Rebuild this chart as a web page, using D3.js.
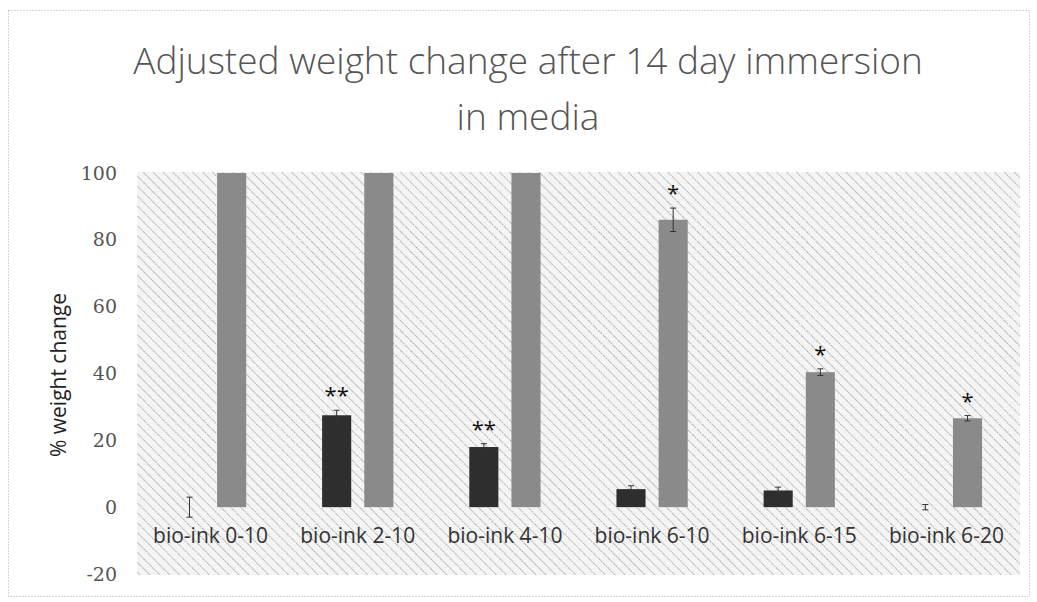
<!DOCTYPE html>
<html>
<head>
<meta charset="utf-8">
<script src="https://cdn.jsdelivr.net/npm/d3@7"></script>
<style>
  body { margin: 0; background: #fff; }
  svg text { font-family: "Open Sans", "DejaVu Sans", sans-serif; }
</style>
</head>
<body>
<div id="chart"></div>
<script>
// data
const categories = ["bio-ink 0-10", "bio-ink 2-10", "bio-ink 4-10", "bio-ink 6-10", "bio-ink 6-15", "bio-ink 6-20"];
const series = ["dark", "light"];
const darkValues = [0, 27.5, 18, 5.4, 5, 0];
const darkErrors = [3, 1.5, 1, 1, 1, 0.8];
const lightValues = [100, 100, 100, 86, 40.4, 26.6];
const lightErrors = [0, 0, 0, 3.5, 1, 0.8];
const darkStars = ["", "**", "**", "", "", ""];
const lightStars = ["", "", "", "*", "*", "*"];
const yTicks = [-20, 0, 20, 40, 60, 80, 100];

const W = 1037, H = 602;
const plot = { left: 137, right: 1020, top: 172, bottom: 575 };

const svg = d3.select("#chart")
    .append("svg")
    .attr("width", W)
    .attr("height", H);

const defs = svg.append("defs");

// diagonal hatch for the plot area, running top-left to bottom-right
const hatch = defs.append("pattern")
    .attr("id", "hatch")
    .attr("patternUnits", "userSpaceOnUse")
    .attr("width", 7)
    .attr("height", 7)
    .attr("patternTransform", "rotate(-45)");
hatch.append("rect").attr("width", 7).attr("height", 7).attr("fill", "#f4f4f4");
hatch.append("line")
    .attr("x1", 0).attr("y1", 0).attr("x2", 0).attr("y2", 7)
    .attr("stroke", "#7a7a7a")
    .attr("stroke-width", 1.2)
    .attr("stroke-dasharray", "1.5,1");

// outer dotted frame
svg.append("rect")
    .attr("x", 8.5).attr("y", 10.5)
    .attr("width", 1021).attr("height", 586)
    .attr("fill", "none")
    .attr("stroke", "#aaa")
    .attr("stroke-dasharray", "1,2");

svg.append("rect")
    .attr("x", plot.left).attr("y", plot.top)
    .attr("width", plot.right - plot.left).attr("height", plot.bottom - plot.top)
    .attr("fill", "url(#hatch)");

// scales
const x0 = d3.scaleBand()
    .domain(categories)
    .range([plot.left, plot.right])
    .padding(0);

const x1 = d3.scaleBand()
    .domain(series)
    .range([0, x0.bandwidth()])
    .paddingInner(0.31)
    .paddingOuter(0.9);

const y = d3.scaleLinear()
    .domain([-20, 100])
    .range([574, 173]);

// y axis
const yAxis = svg.append("g")
    .attr("transform", `translate(${plot.left},0)`)
    .call(d3.axisLeft(y).tickValues(yTicks).tickFormat(d => String(d)).tickSize(0).tickPadding(20));
yAxis.select(".domain").remove();
yAxis.selectAll("text")
    .style("font-size", "19px")
    .style("font-family", "\"DejaVu Serif\", serif")
    .attr("fill", "#555");

// x axis labels
const xAxis = svg.append("g")
    .attr("transform", `translate(0,${y(0)})`)
    .call(d3.axisBottom(x0).tickSize(0).tickPadding(21));
xAxis.select(".domain").remove();
xAxis.selectAll("text")
    .style("font-size", "21px")
    .attr("fill", "#333");

const rows = categories.map((c, i) => ({
    cat: c,
    vals: [
        { key: "dark", v: darkValues[i], e: darkErrors[i], star: darkStars[i] },
        { key: "light", v: lightValues[i], e: lightErrors[i], star: lightStars[i] }
    ]
}));

const colors = { dark: "#2e2e2e", light: "#8a8a8a" };

const groups = svg.selectAll("g.grp")
    .data(rows)
    .join("g")
    .attr("class", "grp")
    .attr("transform", d => `translate(${x0(d.cat)},0)`);

groups.selectAll("rect")
    .data(d => d.vals)
    .join("rect")
    .attr("x", d => x1(d.key))
    .attr("y", d => y(Math.max(0, d.v)))
    .attr("width", x1.bandwidth())
    .attr("height", d => Math.abs(y(d.v) - y(0)))
    .attr("fill", d => colors[d.key]);

// error bars
const errs = groups.selectAll("g.err")
    .data(d => d.vals.filter(v => v.e > 0))
    .join("g")
    .attr("class", "err")
    .attr("transform", d => `translate(${x1(d.key) + x1.bandwidth() / 2},0)`);
errs.append("line")
    .attr("y1", d => y(d.v - d.e)).attr("y2", d => y(d.v + d.e))
    .attr("stroke", "#333").attr("stroke-width", 1);
errs.append("line")
    .attr("x1", -3).attr("x2", 3)
    .attr("y1", d => y(d.v + d.e)).attr("y2", d => y(d.v + d.e))
    .attr("stroke", "#333").attr("stroke-width", 1);
errs.append("line")
    .attr("x1", -3).attr("x2", 3)
    .attr("y1", d => y(d.v - d.e)).attr("y2", d => y(d.v - d.e))
    .attr("stroke", "#333").attr("stroke-width", 1);

// significance stars
groups.selectAll("text.star")
    .data(d => d.vals.filter(v => v.star))
    .join("text")
    .attr("class", "star")
    .attr("x", d => x1(d.key) + x1.bandwidth() / 2)
    .attr("y", d => y(d.v + d.e) - 7)
    .attr("text-anchor", "middle")
    .style("font-size", "22px")
    .attr("fill", "#111")
    .text(d => d.star);

// y axis title
svg.append("text")
    .attr("transform", `translate(66,375) rotate(-90)`)
    .attr("text-anchor", "middle")
    .style("font-size", "21px")
    .attr("fill", "#222")
    .text("% weight change");

// title, two lines
const title = svg.append("text")
    .attr("text-anchor", "middle")
    .style("font-size", "37px")
    .style("font-weight", 300)
    .attr("fill", "#555");
title.append("tspan").attr("x", 528).attr("y", 74).text("Adjusted weight change after 14 day immersion");
title.append("tspan").attr("x", 528).attr("y", 130).text("in media");
</script>
</body>
</html>
